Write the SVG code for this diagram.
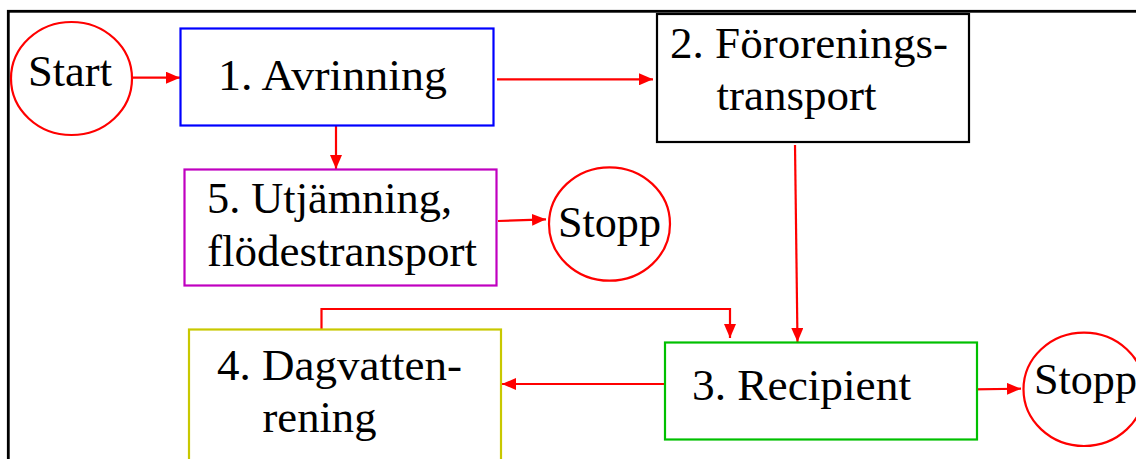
<svg xmlns="http://www.w3.org/2000/svg" width="1136" height="459" viewBox="0 0 1136 459">
  <style>
    text { font-family: "Liberation Serif", "DejaVu Serif", "Noto Serif", serif; font-size: 45px; fill: #000; }
    .term { fill: #fff; stroke: #ff0000; stroke-width: 2.2; }
    .box { fill: #fff; stroke-width: 2.2; }
    .conn { fill: none; stroke: #ff0000; stroke-width: 2.2; }
  </style>
  <defs>
    <marker id="arrow" viewBox="0 0 14 12" refX="14" refY="6" markerWidth="14" markerHeight="12" markerUnits="userSpaceOnUse" orient="auto">
      <path d="M0,0 L14,6 L0,12 Z" fill="#ff0000"/>
    </marker>
  </defs>

  <rect width="1136" height="459" fill="#fff"/>
  <!-- outer frame, continues past the right and bottom edges -->
  <rect x="8.3" y="11.3" width="1200" height="520" fill="none" stroke="#000" stroke-width="2.8"/>

  <g id="connectors">
    <path class="conn" d="M132,77.7 L180,77.7" marker-end="url(#arrow)"/>
    <path class="conn" d="M497,79.3 L653,79.3" marker-end="url(#arrow)"/>
    <path class="conn" d="M336,126 L336,169" marker-end="url(#arrow)"/>
    <path class="conn" d="M498,221 L546,219.3" marker-end="url(#arrow)"/>
    <path class="conn" d="M795,145 L797.5,342" marker-end="url(#arrow)"/>
    <path class="conn" d="M321.5,329 L321.5,309 L730,309 L730,338" marker-end="url(#arrow)"/>
    <path class="conn" d="M668,384 L502,384" marker-end="url(#arrow)"/>
    <path class="conn" d="M973,389.3 L1021,388.7" marker-end="url(#arrow)"/>
  </g>

  <g id="start">
    <ellipse class="term" cx="71.5" cy="78.5" rx="60.5" ry="56.5"/>
    <text x="28" y="86" textLength="84" lengthAdjust="spacingAndGlyphs">Start</text>
  </g>

  <g id="avrinning">
    <rect class="box" x="180.5" y="28.5" width="313" height="97" stroke="#0000ff"/>
    <text x="218" y="90" textLength="229" lengthAdjust="spacingAndGlyphs">1. Avrinning</text>
  </g>

  <g id="fororeningstransport">
    <rect class="box" x="657" y="14" width="312" height="128" stroke="#000" stroke-width="2.5"/>
    <text x="670" y="58" textLength="278" lengthAdjust="spacingAndGlyphs">2. Förorenings-</text>
    <text x="716.5" y="110" textLength="160" lengthAdjust="spacingAndGlyphs">transport</text>
  </g>

  <g id="utjamning">
    <rect class="box" x="184.5" y="169.5" width="312" height="116" stroke="#c000c0"/>
    <text x="207" y="213" textLength="245" lengthAdjust="spacingAndGlyphs">5. Utjämning,</text>
    <text x="207" y="266" textLength="270" lengthAdjust="spacingAndGlyphs">flödestransport</text>
  </g>

  <g id="stopp1">
    <ellipse class="term" cx="609.5" cy="224" rx="60.5" ry="56.7"/>
    <text x="558" y="237" textLength="103" lengthAdjust="spacingAndGlyphs">Stopp</text>
  </g>

  <g id="dagvattenrening">
    <rect class="box" x="189" y="329.5" width="312" height="160" stroke="#c8c800"/>
    <text x="217" y="380" textLength="245" lengthAdjust="spacingAndGlyphs">4. Dagvatten-</text>
    <text x="262.5" y="432" textLength="114" lengthAdjust="spacingAndGlyphs">rening</text>
  </g>

  <g id="recipient">
    <rect class="box" x="665" y="342.5" width="312" height="97" stroke="#00c000"/>
    <text x="692" y="400" textLength="219" lengthAdjust="spacingAndGlyphs">3. Recipient</text>
  </g>

  <g id="stopp2">
    <ellipse class="term" cx="1084" cy="389.3" rx="60.5" ry="56.7"/>
    <text x="1034" y="394" textLength="103" lengthAdjust="spacingAndGlyphs">Stopp</text>
  </g>
</svg>
